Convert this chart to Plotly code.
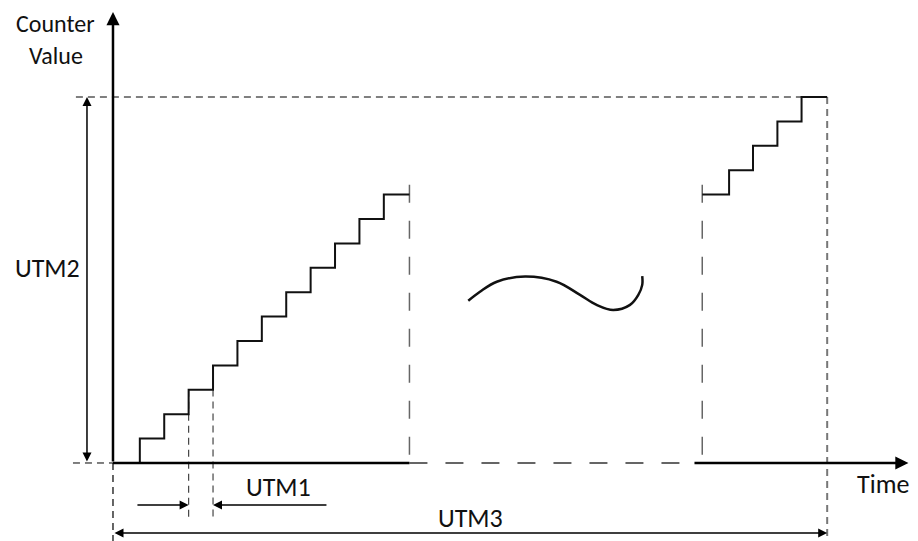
import plotly.graph_objects as go

# ---- data (time units = one counter tick, counter units = one count) ----
left_step_times = [1.1, 2.1, 3.1, 4.1, 5.1, 6.1, 7.1, 8.1, 9.1, 10.1, 11.1, 12.15]
left_levels = [0, 1, 2, 3, 4, 5, 6, 7, 8, 9, 10, 11]
right_step_times = [24.15, 25.25, 26.23, 27.23, 28.22, 29.27]
right_levels = [11, 12, 13, 14, 15, 15]

gap_start = 12.15          # end of first visible segment
gap_end = 24.15            # start of second visible segment
axis_resume = 23.77        # solid time axis resumes
axis_end = 32.6
utm3_end = 29.27
max_count = 15
utm1_start, utm1_end = 3.1, 4.1

wave_t = [14.56, 15.04, 15.73, 16.89, 18.18, 19.14, 19.82, 20.50, 21.19, 21.53, 21.69, 21.69]
wave_c = [6.65, 7.02, 7.43, 7.64, 7.43, 6.89, 6.48, 6.27, 6.48, 6.89, 7.30, 7.66]

labels = {"counter": "Counter", "value": "Value", "time": "Time",
          "utm1": "UTM1", "utm2": "UTM2", "utm3": "UTM3"}

# the page body adds an 8px offset, ranges compensate for it
X_RANGE = [-4.303, 33.32]
Y_RANGE = [-3.525, 18.648]
FONT = "Carlito, Lato, 'Liberation Sans', sans-serif"

fig = go.Figure()


def line(x, y, color="black", width=2, dash="solid", shape="linear"):
    fig.add_trace(go.Scatter(x=x, y=y, mode="lines", hoverinfo="skip", showlegend=False,
                             line=dict(color=color, width=width, dash=dash, shape=shape)))


SHORT = "7px,5px"
LONG = "18px,18px"

# reference dashed lines
line([-1.52, utm3_end], [max_count, max_count], color="black", width=1, dash=SHORT)
line([-1.64, 0], [0, 0], color="black", width=1, dash=SHORT)
line([utm3_end, utm3_end], [max_count, Y_RANGE[0]], color="#777777", width=2, dash=SHORT)
line([0, 0], [0, Y_RANGE[0]], color="black", width=1.2, dash=SHORT)
line([utm1_start, utm1_start], [left_levels[3], -2.25], color="#444444", width=1.2, dash=SHORT)
line([utm1_end, utm1_end], [left_levels[4], -2.25], color="#444444", width=1.2, dash=SHORT)
line([gap_start, gap_start], [11.4, 0], color="#666666", width=1.5, dash=LONG)
line([gap_end, gap_end], [11.4, 0], color="#666666", width=1.5, dash=LONG)
line([gap_start, axis_resume], [0, 0], color="#333333", width=1.5, dash=LONG)

# staircases
line(left_step_times, left_levels, color="#111111", width=2, shape="vh")
line(right_step_times, right_levels, color="#111111", width=2, shape="hv")

# wave
line(wave_t, wave_c, color="#111111", width=2.5, shape="spline")

# solid time axis (first part)
line([0, gap_start], [0, 0], color="black", width=2.5)


def arrow(x0, y0, x1, y1, width=2.5, size=1.05, both=False):
    fig.add_annotation(x=x1, y=y1, ax=x0, ay=y0, xref="x", yref="y", axref="x", ayref="y",
                       text="", showarrow=True, arrowhead=2, arrowsize=size, arrowwidth=width,
                       arrowcolor="black", standoff=0, startstandoff=0,
                       arrowside="end+start" if both else "end",
                       startarrowhead=2, startarrowsize=size)


# axes arrows
arrow(0, 0, 0, 18.48)
arrow(axis_resume, 0, axis_end, 0)

# dimension arrows
arrow(-1.066, 0, -1.066, max_count, width=1.5, size=1.2, both=True)
arrow(0.94, -1.72, utm1_start, -1.72, width=1.5, size=1.2)
arrow(8.81, -1.72, utm1_end, -1.72, width=1.5, size=1.2)
arrow(0, -2.87, utm3_end, -2.87, width=1.5, size=1.2, both=True)


def label(text, x, y, size=26, yref="y", yanchor="middle"):
    fig.add_annotation(x=x, y=y, xref="x", yref=yref, yanchor=yanchor, text=text,
                       showarrow=False, borderpad=0,
                       font=dict(family=FONT, size=size, color="#111111"), align="center")


label(labels["counter"], -2.34, 1.0, size=24, yref="paper", yanchor="top")
label(labels["value"], -2.32, 16.72, size=24)
label(labels["time"], 31.55, -0.86)
label(labels["utm1"], 6.8, -0.98)
label(labels["utm2"], -2.70, 8.0)
label(labels["utm3"], 14.67, -2.25)

fig.update_layout(width=918, height=541, margin=dict(l=0, r=0, t=0, b=0),
                  paper_bgcolor="white", plot_bgcolor="white",
                  xaxis=dict(range=X_RANGE, visible=False, fixedrange=True),
                  yaxis=dict(range=Y_RANGE, visible=False, fixedrange=True))

fig.write_html("out.html")
